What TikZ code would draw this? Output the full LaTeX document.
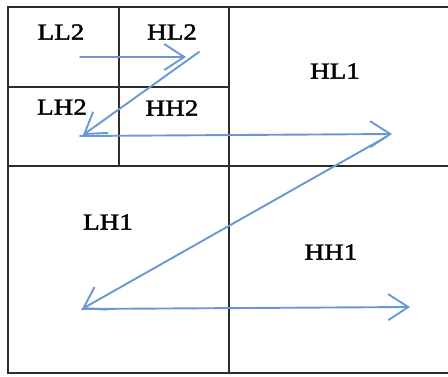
\documentclass[tikz,border=0pt]{standalone}
\usepackage{fontspec}
\setmainfont{Liberation Serif}
\newfontfamily\bandfont{Liberation Serif}[BoldFont={Liberation Serif}, BoldFeatures={FakeBold=1.6}]
\usetikzlibrary{arrows.meta}
\definecolor{gridline}{RGB}{45,45,45}
\definecolor{scanblue}{RGB}{104,152,212}
\tikzset{
  band/.style={font=\bandfont\bfseries\fontsize{23}{27}\selectfont, inner sep=0pt, text=black},
  gridrule/.style={draw=gridline, line width=1.4pt},
  scan/.style={draw=scanblue, line width=1.9pt, line cap=round,
    -{Straight Barb[length=20pt,width=26pt,line width=1.9pt]}}
}
\newcommand{\bandtext}[1]{\scalebox{1.18}[1]{#1}}
\begin{document}
\begin{tikzpicture}[x=1pt,y=-1pt]
\useasboundingbox (0,0) rectangle (448,376);
% subband grid
\draw[gridrule] (448,7) -- (8,7) -- (8,373) -- (448,373);
\draw[gridrule] (229,7) -- (229,373);
\draw[gridrule] (8,166) -- (448,166);
\draw[gridrule] (119,7) -- (119,166);
\draw[gridrule] (8,87) -- (229,87);
% subband labels
\node[band] (ll2) at (61,32) {\bandtext{LL2}};
\node[band] (hl2) at (172,32) {\bandtext{HL2}};
\node[band] (lh2) at (62,107) {\bandtext{LH2}};
\node[band] (hh2) at (172,108) {\bandtext{HH2}};
\node[band] (hl1) at (335,71) {\bandtext{HL1}};
\node[band] (lh1) at (108,222) {\bandtext{LH1}};
\node[band] (hh1) at (331,252) {\bandtext{HH1}};
% scan path points
\coordinate (a0) at (80,57);
\coordinate (a1) at (186,57);
\coordinate (b0) at (199,52);
\coordinate (b1) at (83,135);
\coordinate (c0) at (80,136);
\coordinate (c1) at (392,134);
\coordinate (d0) at (386,137);
\coordinate (d1) at (82,309);
\coordinate (e0) at (82,309);
\coordinate (e1) at (410,307);
% zig-zag scan order
\draw[scan] (a0) -- (a1);
\draw[scan] (b0) -- (b1);
\draw[scan] (c0) -- (c1);
\draw[scan] (d0) -- (d1);
\draw[scan] (e0) -- (e1);
\end{tikzpicture}
\end{document}
